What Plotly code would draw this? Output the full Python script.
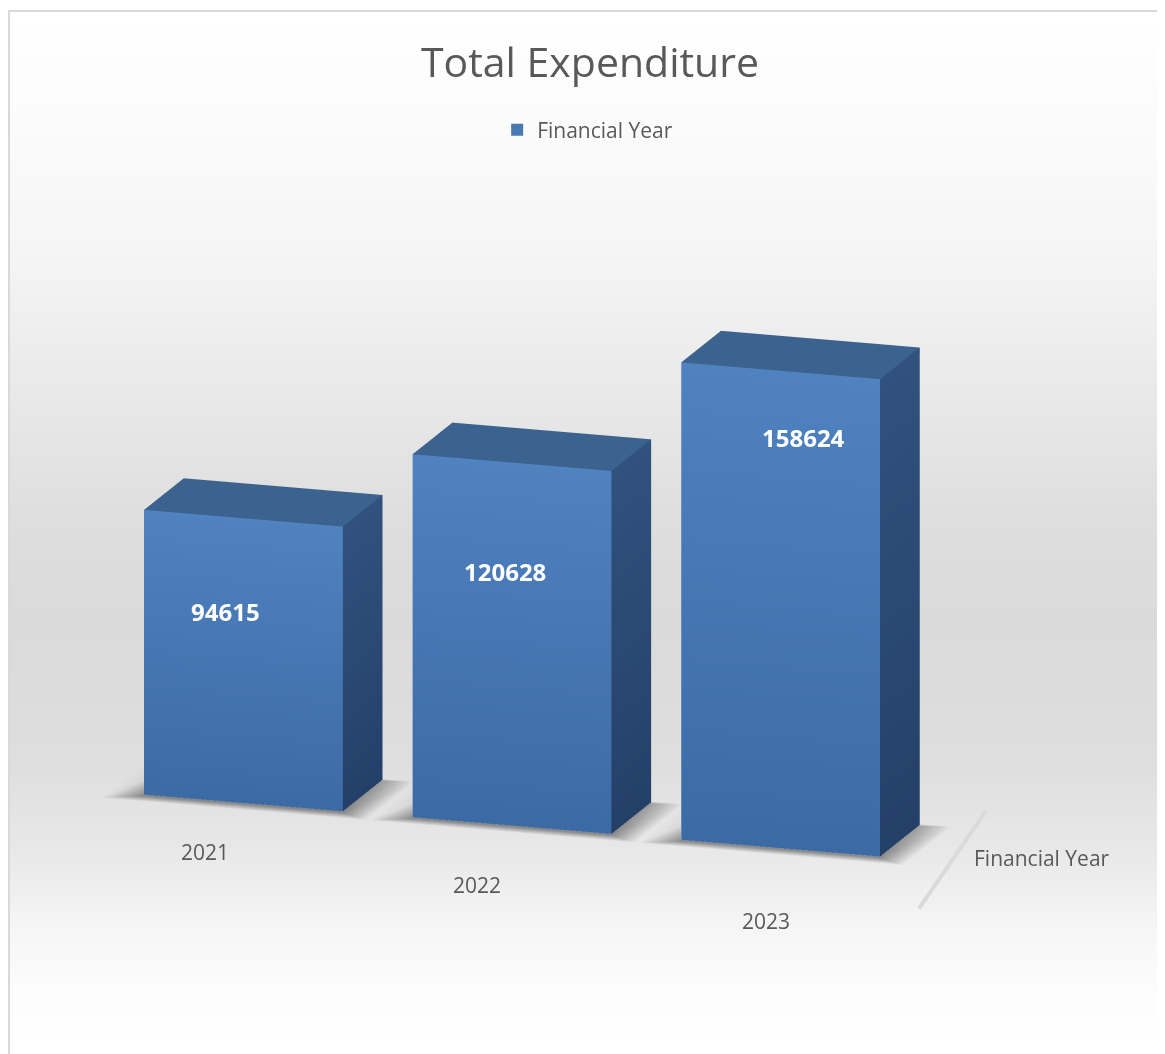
import numpy as np
import plotly.graph_objects as go

categories = ["2021", "2022", "2023"]
values = [94615, 120628, 158624]
series_name = "Financial Year"
title_text = "Total Expenditure"

bg_rows = [3, 142, 242, 392, 512, 612, 752, 842, 922, 992, 1046]
bg_grey = [255, 250, 245, 232, 222, 218, 222, 232, 246, 253, 255]

FONT = "Open Sans, Noto Sans, sans-serif"
TXT = "#595959"
FW, FH = 1157, 1046
W, D = 0.74, 0.455
UNITS_PER_VALUE = 1.75 / max(values)
XR, YR, ZR = [-0.7, 3.5], [-1.05, 0.95], [-0.05, 2.0]
ASPECT = 0.54


def rgb(c):
    return "rgb(%d,%d,%d)" % tuple(c)


FRONT_T, FRONT_B = (80, 130, 192), (60, 106, 165)
SIDE_T, SIDE_B = (48, 82, 125), (36, 64, 105)
TOP = (60, 98, 144)

vx, vy, vz, vc, fi, fj, fk = [], [], [], [], [], [], []


def quad(pts, cols):
    n = len(vx)
    for p, c in zip(pts, cols):
        vx.append(p[0]); vy.append(p[1]); vz.append(p[2]); vc.append(rgb(c))
    fi.extend([n, n]); fj.extend([n + 1, n + 2]); fk.extend([n + 2, n + 3])


for i, v in enumerate(values):
    x0, x1 = i - W / 2, i + W / 2
    y0, y1 = 0.0, D
    h = v * UNITS_PER_VALUE
    quad([(x0, y0, 0), (x1, y0, 0), (x1, y0, h), (x0, y0, h)], [FRONT_B, FRONT_B, FRONT_T, FRONT_T])
    quad([(x1, y0, 0), (x1, y1, 0), (x1, y1, h), (x1, y0, h)], [SIDE_B, SIDE_B, SIDE_T, SIDE_T])
    quad([(x0, y0, h), (x1, y0, h), (x1, y1, h), (x0, y1, h)], [TOP] * 4)

fig = go.Figure()

fig.add_trace(go.Heatmap(x=[0, 1], y=bg_rows, z=[[g, g] for g in bg_grey], zmin=0, zmax=255,
                         colorscale=[[0, "rgb(0,0,0)"], [1, "rgb(255,255,255)"]],
                         zsmooth="best", showscale=False, hoverinfo="skip"))
fig.add_trace(go.Scatter(x=[None], y=[None], mode="markers", name=series_name,
                         marker=dict(symbol="square", size=15, color="#4a78b2"), showlegend=True))

# soft floor shadow: one ring of quads fading outwards, weakest at the back left corner
sx, sy, sz, sc, si, sj, sk = [], [], [], [], [], [], []
for i in range(len(values)):
    ix0, ix1, iy0, iy1 = i - W / 2, i + W / 2, 0.0, D
    ox0, ox1, oy0, oy1 = ix0 - 0.14, ix1 + 0.11, iy0 - 0.07, iy1 + 0.03
    n = len(sx)
    sx += [ix0, ix1, ix1, ix0, ox0, ox1, ox1, ox0]
    sy += [iy0, iy0, iy1, iy1, oy0, oy0, oy1, oy1]
    sz += [-0.005] * 8
    sc += ["rgba(0,0,0,0.40)", "rgba(0,0,0,0.40)", "rgba(0,0,0,0.30)", "rgba(0,0,0,0.10)"] + ["rgba(0,0,0,0)"] * 4
    si += [n, n]; sj += [n + 1, n + 2]; sk += [n + 2, n + 3]
    for a in range(4):
        b = (a + 1) % 4
        si += [n + a, n + a]; sj += [n + b, n + b + 4]; sk += [n + b + 4, n + a + 4]
fig.add_trace(go.Mesh3d(x=sx, y=sy, z=sz, i=si, j=sj, k=sk, vertexcolor=sc,
                        lighting=dict(ambient=1, diffuse=0, specular=0, fresnel=0), hoverinfo="skip", scene="scene"))

fig.add_trace(go.Mesh3d(x=vx, y=vy, z=vz, i=fi, j=fj, k=fk, vertexcolor=vc, flatshading=False,
                        lighting=dict(ambient=1, diffuse=0, specular=0, fresnel=0, roughness=1),
                        hoverinfo="skip", scene="scene"))
fig.add_trace(go.Scatter3d(x=[2.721, 2.533], y=[-0.635, 0.715], z=[0, 0], mode="lines",
                           line=dict(color="#dadada", width=8), hoverinfo="skip", showlegend=False, scene="scene"))

hidden = dict(visible=False, showgrid=False, zeroline=False, showbackground=False, showspikes=False)
label_fracs = [0.668, 0.699, 0.865]
label_dx = [-0.067, -0.026, 0.086]
cat_dx = [0.077, 0.132, 0.256]
cat_y = [-0.675, -0.807, -0.96]
annots = [dict(x=i + dx, y=0, z=v * UNITS_PER_VALUE * f, text="<b>%d</b>" % v, showarrow=False,
               font=dict(family=FONT, size=24, color="white"))
          for i, (v, f, dx) in enumerate(zip(values, label_fracs, label_dx))]
annots += [dict(x=i + dx, y=cy, z=0, text=c, showarrow=False, font=dict(family=FONT, size=21, color=TXT))
           for i, (c, dx, cy) in enumerate(zip(categories, cat_dx, cat_y))]
annots.append(dict(x=2.92, y=0.164, z=0, text=series_name, showarrow=False, font=dict(family=FONT, size=21, color=TXT)))

# view
e = np.array([0.2985, -0.9186, 0.2588]); e = e / np.linalg.norm(e)
C = np.array([-0.0979, 0.1242, 0.0417])
L = 2.0
eye = C + L * e

fig.update_layout(
    width=FW, height=FH, autosize=False, margin=dict(l=0, r=0, t=0, b=0),
    paper_bgcolor="white", plot_bgcolor="rgba(0,0,0,0)",
    title=dict(text=title_text, x=0.503, xanchor="center", y=0.948, yanchor="middle",
               font=dict(family=FONT, size=41, color=TXT)),
    legend=dict(x=0.501, xanchor="center", y=1 - 122 / FH, yanchor="middle", orientation="h",
                font=dict(family=FONT, size=21, color=TXT), bgcolor="rgba(0,0,0,0)", itemsizing="constant"),
    xaxis=dict(visible=False, range=[0, 1], domain=[0, 1], fixedrange=True),
    yaxis=dict(visible=False, range=[FH, 0], domain=[0, 1], fixedrange=True),
    scene=dict(
        domain=dict(x=[0, 1], y=[0, 1]), bgcolor="rgba(0,0,0,0)",
        xaxis=dict(hidden, range=XR), yaxis=dict(hidden, range=YR), zaxis=dict(hidden, range=ZR),
        aspectmode="manual",
        aspectratio=dict(x=(XR[1] - XR[0]) * ASPECT, y=(YR[1] - YR[0]) * ASPECT, z=(ZR[1] - ZR[0]) * ASPECT),
        camera=dict(projection=dict(type="orthographic"),
                    eye=dict(x=float(eye[0]), y=float(eye[1]), z=float(eye[2])),
                    center=dict(x=float(C[0]), y=float(C[1]), z=float(C[2])), up=dict(x=0, y=0, z=1)),
        annotations=annots,
    ),
    shapes=[dict(type="line", xref="paper", yref="paper", x0=0, x1=0, y0=0, y1=1 - 3 / FH,
                 line=dict(color="#d9d9d9", width=4)),
            dict(type="line", xref="paper", yref="paper", x0=0, x1=1, y0=1 - 3 / FH, y1=1 - 3 / FH,
                 line=dict(color="#d9d9d9", width=2))],
)
fig.write_html("out.html")
